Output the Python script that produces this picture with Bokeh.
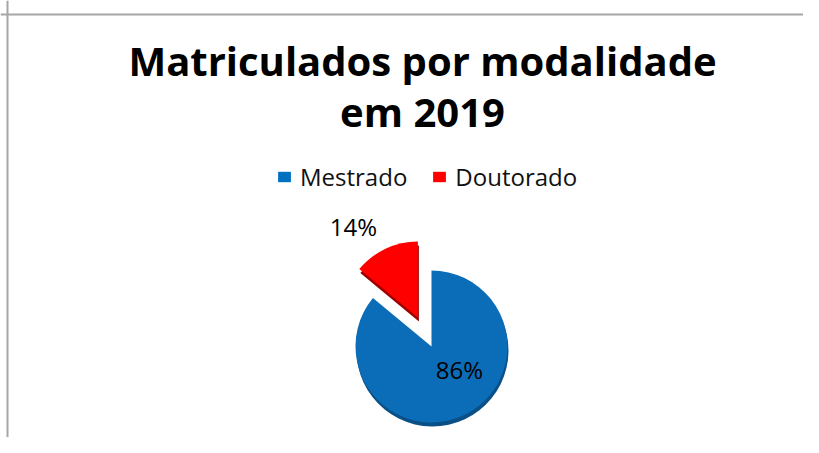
import numpy as np
from bokeh.plotting import figure
from bokeh.models import Range1d, Span, Label, Legend, LegendItem, ColumnDataSource
from bokeh.embed import file_html
from bokeh.resources import INLINE

# ---- data ----
title_lines = ["Matriculados por modalidade", "em 2019"]
categories = ["Mestrado", "Doutorado"]
values = [86, 14]
colors = ["#0B6DB8", "#FF0000"]
legend_colors = ["#0070C0", "#FF0000"]
shade_colors = ["#0A4F86", "#9E0000"]
explode = [0, 32]

W, H = 803, 437
p = figure(width=W, height=H, output_backend="svg", toolbar_location=None,
           x_range=Range1d(0, W), y_range=Range1d(0, H), min_border=0)
p.axis.visible = False
p.grid.visible = False
p.outline_line_color = None
p.background_fill_color = "white"

# chart-area border (cropped: only top and left visible)
p.add_layout(Span(location=423, dimension="width", line_color="#A6A6A6", line_width=2))
p.add_layout(Span(location=7, dimension="height", line_color="#A6A6A6", line_width=2))

# titles
for i, t in enumerate(title_lines):
    p.add_layout(Label(x=422, y=377 - 51 * i, text=t, text_align="center",
                       text_baseline="alphabetic", text_font="Open Sans",
                       text_font_style="bold", text_font_size="40px", text_color="black"))

# pie geometry (Excel style: clockwise from 12 o'clock)
vals = np.array(values, dtype=float)
frac = vals / vals.sum()
cum = np.concatenate([[0], np.cumsum(frac)]) * 2 * np.pi
start = np.pi / 2 - cum[1:]
end = np.pi / 2 - cum[:-1]
mid = (start + end) / 2
cx0, cy0, R = 431.0, 91.0, 76.0
cx = cx0 + np.array(explode) * np.cos(mid)
cy = cy0 + np.array(explode) * np.sin(mid)

# 3D-ish side shading
shade = ColumnDataSource(dict(x=cx + 1, y=cy - 4, s=start, e=end, c=shade_colors))
p.wedge(x="x", y="y", radius=R, start_angle="s", end_angle="e", source=shade,
        fill_color="c", line_color=None, direction="anticlock")

for i in range(len(categories)):
    p.wedge(x=cx[i], y=cy[i], radius=R, start_angle=start[i], end_angle=end[i],
            fill_color=colors[i], line_color=None, direction="anticlock")

# legend proxies with flat legend colors
proxies = []
for i in range(len(categories)):
    pr = p.rect(x=[-100], y=[-100], width=1, height=1, fill_color=legend_colors[i], line_color=None)
    proxies.append(pr)
legend = Legend(items=[LegendItem(label=categories[i], renderers=[proxies[i]]) for i in range(len(categories))],
                orientation="horizontal", location=(276, 244),
                glyph_width=16, glyph_height=13, label_standoff=8, spacing=24,
                padding=0, margin=0, border_line_color=None, background_fill_alpha=0,
                label_text_font="Open Sans", label_text_font_size="24px", label_text_color="#111111")
p.add_layout(legend, "center")

# data labels
pct = [f"{round(f * 100)}%" for f in frac]
label_pos = [(459, 68), (353, 211)]
for i in range(len(categories)):
    p.add_layout(Label(x=label_pos[i][0], y=label_pos[i][1], text=pct[i], text_align="center",
                       text_baseline="alphabetic", text_font="Open Sans",
                       text_font_size="24px", text_color="black"))

open("out.html", "w").write(file_html(p, INLINE))
